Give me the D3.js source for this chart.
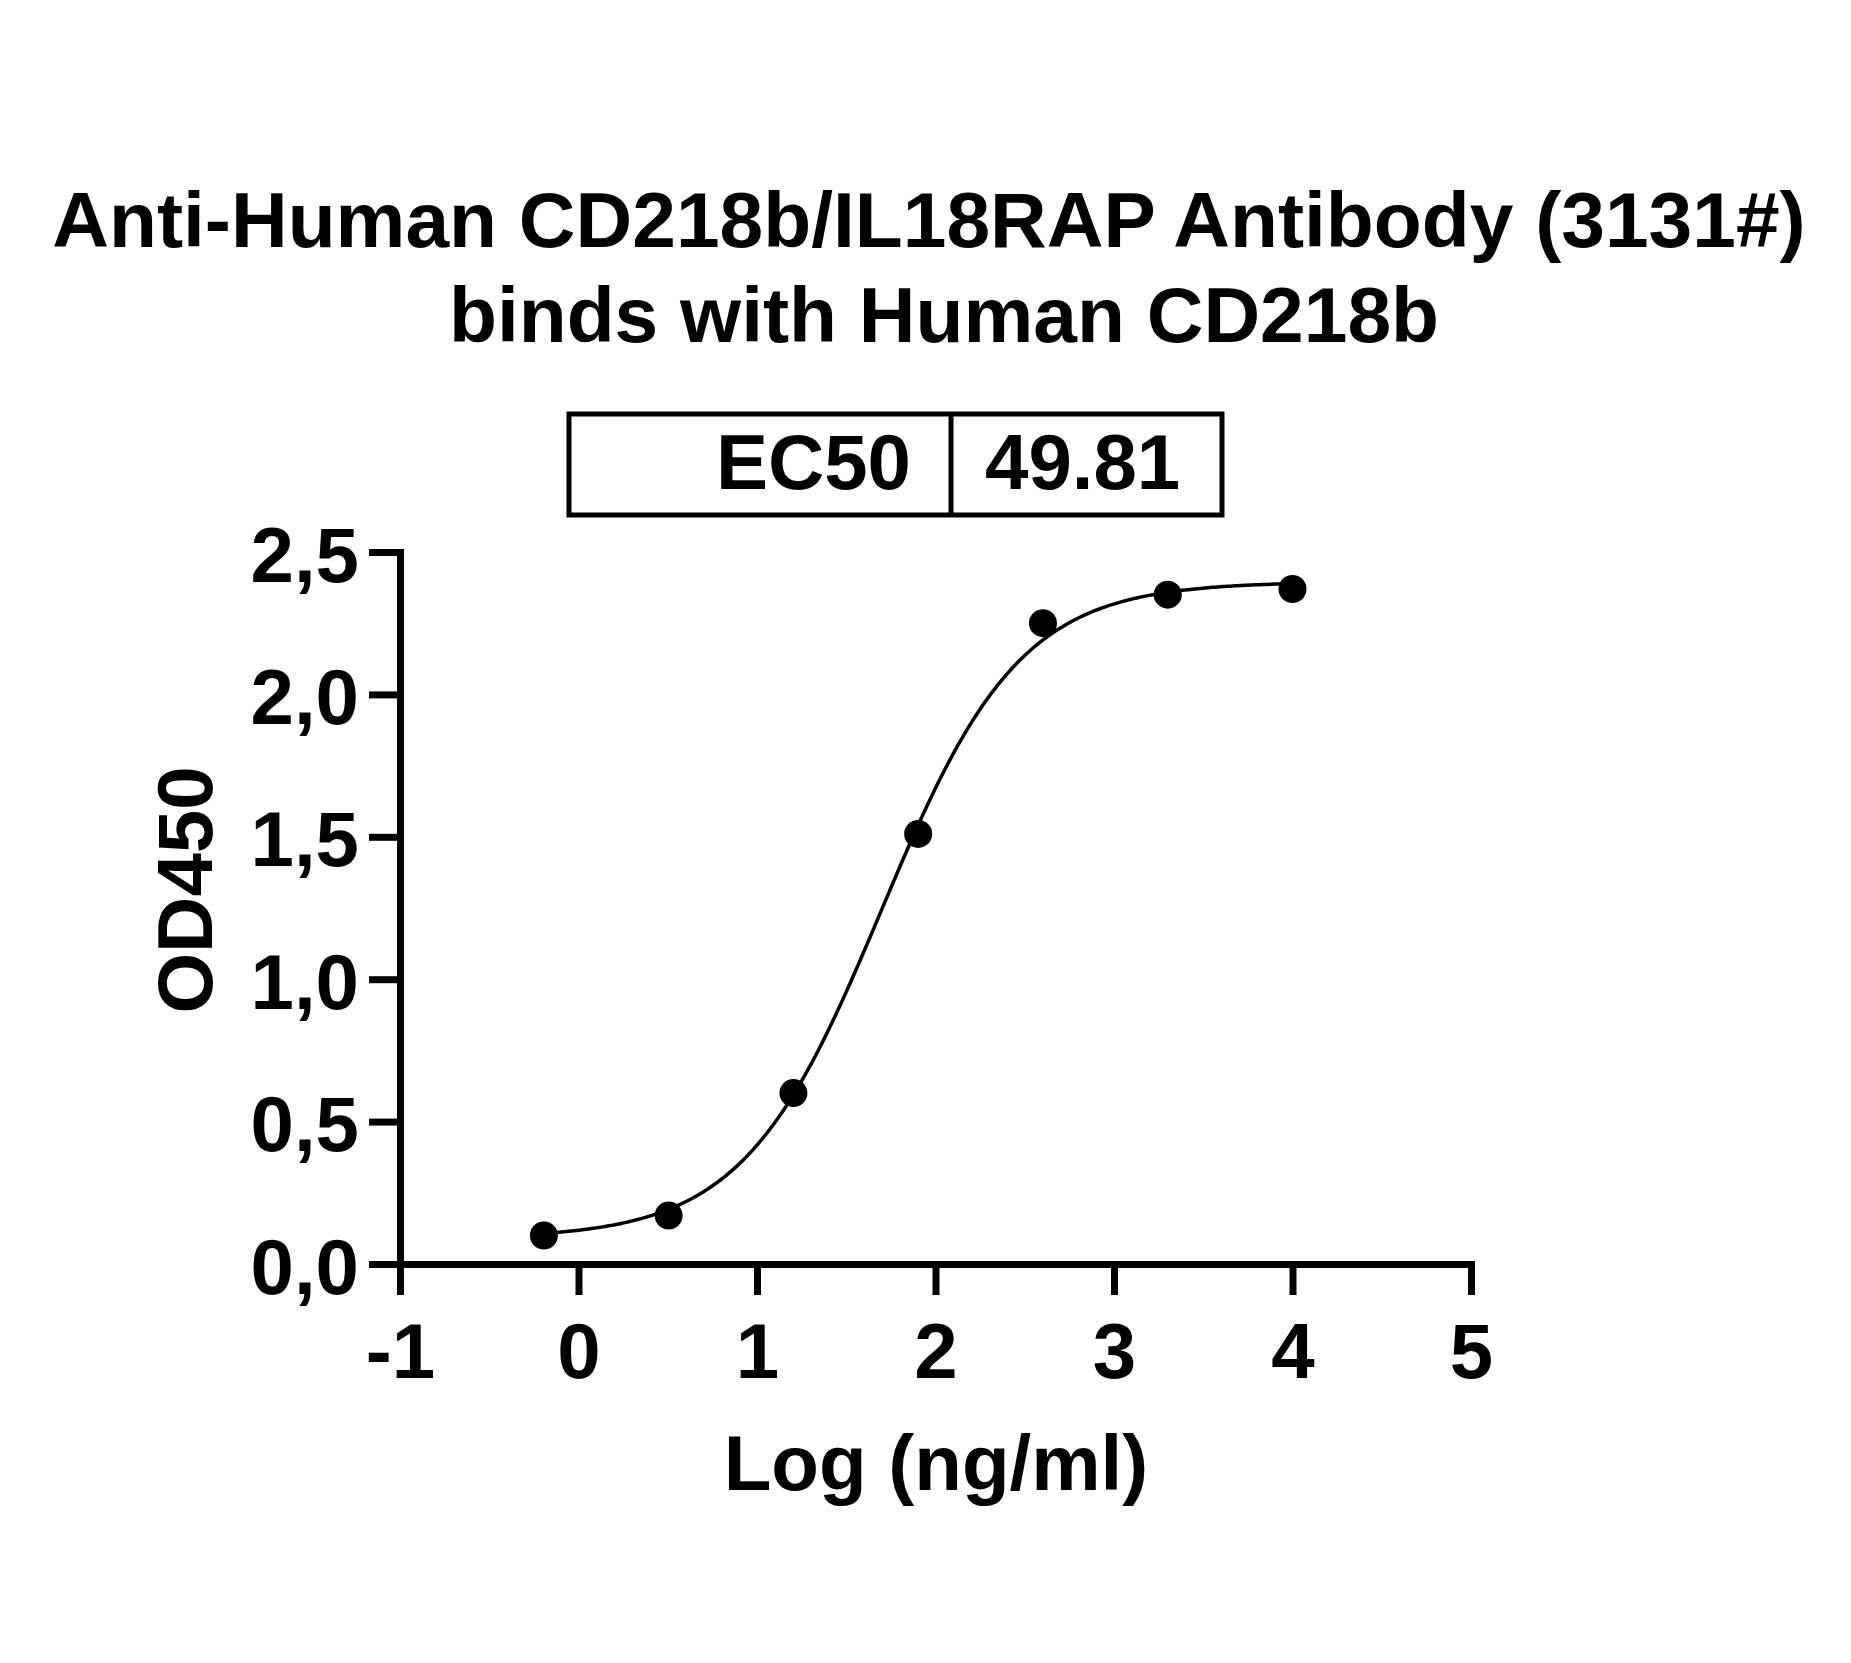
<!DOCTYPE html>
<html>
<head>
<meta charset="utf-8">
<script src="https://cdn.jsdelivr.net/npm/d3@7"></script>
<style>
  html, body { margin: 0; padding: 0; background: #ffffff; }
  svg { display: block; }
  text { font-family: "Liberation Sans", Arial, sans-serif; font-weight: bold; fill: #000; }
</style>
</head>
<body>
<script>
// ---- Data ----
const titleLines = ["Anti-Human CD218b/IL18RAP Antibody (3131#)", "binds with Human CD218b"];
const ec50Label = "EC50";
const ec50Value = "49.81";
const xTitle = "Log (ng/ml)";
const yTitle = "OD450";

// log10 concentration (ng/ml) and OD450 readings
const logConc = [-0.194, 0.505, 1.204, 1.903, 2.602, 3.301, 4.0];
const od450   = [0.10, 0.17, 0.60, 1.51, 2.25, 2.35, 2.37];

// 4-parameter logistic fit parameters (EC50 = 49.81 ng/ml)
const fitBottom = 0.09;
const fitTop = 2.395;
const fitLogEC50 = Math.log10(49.81);
const fitHill = 1.12;

const xTickValues = [-1, 0, 1, 2, 3, 4, 5];
const xTickLabels = ["-1", "0", "1", "2", "3", "4", "5"];
const yTickValues = [0, 0.5, 1.0, 1.5, 2.0, 2.5];
const yTickLabels = ["0,0", "0,5", "1,0", "1,5", "2,0", "2,5"];

// ---- Drawing ----
const W = 1851, H = 1663;
const svg = d3.select("body").append("svg").attr("width", W).attr("height", H);
svg.append("rect").attr("width", W).attr("height", H).attr("fill", "#fff");

const x = d3.scaleLinear().domain([-1, 5]).range([400, 1471]);
const y = d3.scaleLinear().domain([0, 2.5]).range([1264, 552]);

const FS = 78;

// Title
svg.append("text").attr("x", 929).attr("y", 247).attr("text-anchor", "middle")
  .attr("font-size", FS + 0.5).text(titleLines[0]);
svg.append("text").attr("x", 944).attr("y", 342).attr("text-anchor", "middle")
  .attr("font-size", FS + 0.5).text(titleLines[1]);

// EC50 table
const box = svg.append("g");
box.append("rect").attr("x", 569).attr("y", 414).attr("width", 653).attr("height", 101)
  .attr("fill", "none").attr("stroke", "#000").attr("stroke-width", 5);
box.append("line").attr("x1", 951).attr("x2", 951).attr("y1", 414).attr("y2", 515)
  .attr("stroke", "#000").attr("stroke-width", 5);
box.append("text").attr("x", 911).attr("y", 489).attr("text-anchor", "end")
  .attr("font-size", FS).text(ec50Label);
box.append("text").attr("x", 985).attr("y", 489).attr("text-anchor", "start")
  .attr("font-size", FS).text(ec50Value);

// Axes
const xAxis = d3.axisBottom(x).tickValues(xTickValues)
  .tickFormat((d, i) => xTickLabels[i]).tickSize(31).tickSizeOuter(0).tickPadding(0);
const gx = svg.append("g").attr("transform", `translate(0,${y(0)})`).call(xAxis);
gx.select(".domain").attr("stroke-width", 7).attr("stroke-linecap", "square");
gx.selectAll(".tick line").attr("stroke-width", 7);
gx.selectAll(".tick text").attr("font-size", FS).attr("dy", null).attr("y", 114)
  .attr("font-family", "Liberation Sans, Arial, sans-serif").attr("font-weight", "bold");

const yAxis = d3.axisLeft(y).tickValues(yTickValues)
  .tickFormat((d, i) => yTickLabels[i]).tickSize(31).tickSizeOuter(0).tickPadding(0);
const gy = svg.append("g").attr("transform", `translate(${x(-1)},0)`).call(yAxis);
gy.select(".domain").attr("stroke-width", 7).attr("stroke-linecap", "square");
gy.selectAll(".tick line").attr("stroke-width", 7);
gy.selectAll(".tick text").attr("font-size", FS).attr("dy", null).attr("x", -41).attr("y", 29)
  .attr("font-family", "Liberation Sans, Arial, sans-serif").attr("font-weight", "bold");

// Axis titles
svg.append("text").attr("x", 936).attr("y", 1490).attr("text-anchor", "middle")
  .attr("font-size", FS).text(xTitle);
svg.append("text").attr("transform", "translate(212,890) rotate(-90)")
  .attr("text-anchor", "middle").attr("font-size", FS).text(yTitle);

// Fitted curve
const fit = v => fitBottom + (fitTop - fitBottom) / (1 + Math.pow(10, (fitLogEC50 - v) * fitHill));
const xs = d3.range(0, 301).map(i => logConc[0] + (logConc[logConc.length - 1] - logConc[0]) * i / 300);
svg.append("path")
  .attr("d", d3.line().x(d => x(d)).y(d => y(fit(d)))(xs))
  .attr("fill", "none").attr("stroke", "#000").attr("stroke-width", 3.5);

// Points
svg.append("g").selectAll("circle").data(logConc).join("circle")
  .attr("cx", d => x(d)).attr("cy", (d, i) => y(od450[i])).attr("r", 14).attr("fill", "#000");
</script>
</body>
</html>
